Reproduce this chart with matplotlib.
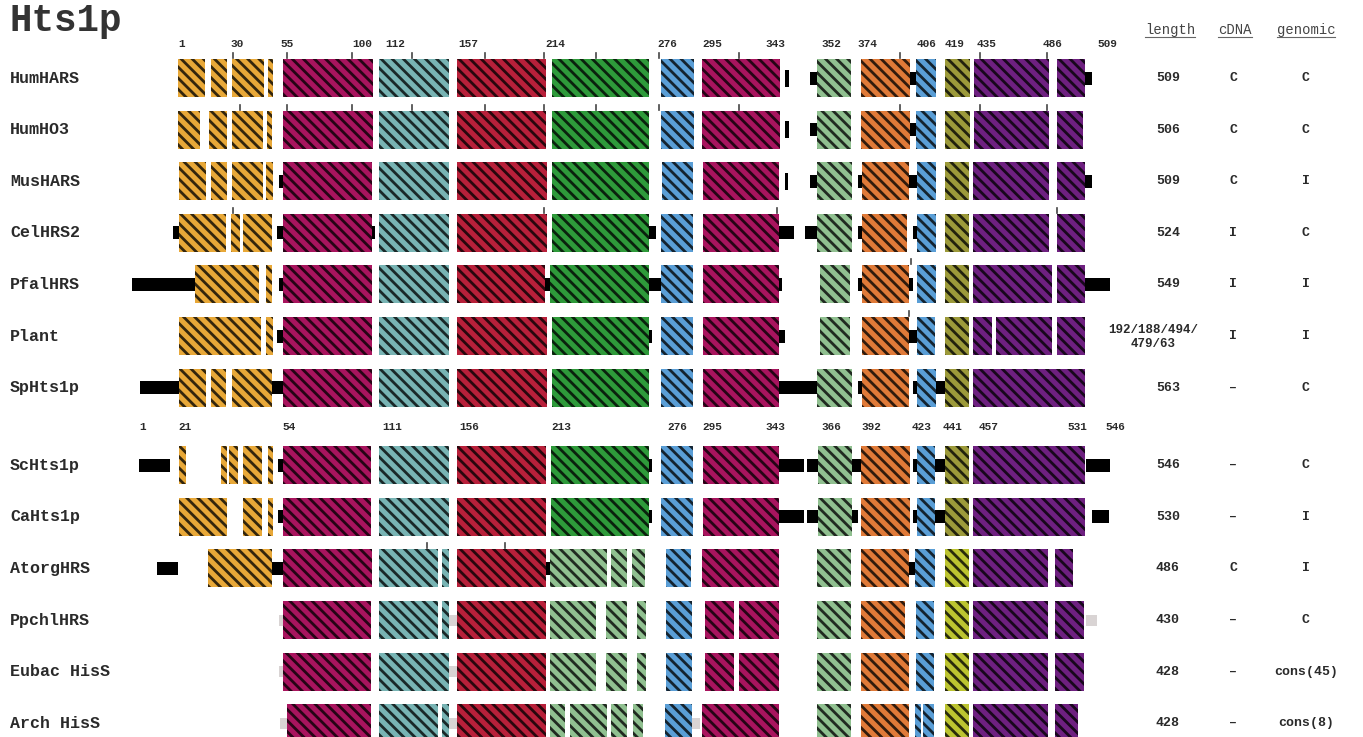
import numpy as np
import matplotlib
matplotlib.use("Agg")
import matplotlib.pyplot as plt
from matplotlib.colors import to_rgb

plt.rcParams['hatch.linewidth'] = 2.0

# domain colours
colors = {
    'or': '#E8A838', 'cr': '#A8145E', 'te': '#78B4B4', 'rd': '#B8203A',
    'gr': '#2E9A3A', 'bl': '#5A9ED6', 'lg': '#90C090', 'o2': '#E07A38',
    'ol': '#9C9A3A', 'yl': '#BCC430', 'pu': '#6E2080',
}

names = ['HumHARS', 'HumHO3', 'MusHARS', 'CelHRS2', 'PfalHRS', 'Plant', 'SpHts1p',
         'ScHts1p', 'CaHts1p', 'AtorgHRS', 'PpchlHRS', 'Eubac HisS', 'Arch HisS']
lengths = ['509', '506', '509', '524', '549', '192/188/494/\n479/63', '563',
           '546', '530', '486', '430', '428', '428']
cdna = ['C', 'C', 'C', 'I', 'I', 'I', '–', '–', '–', 'C', '–', '–', '–']
genomic = ['C', 'C', 'I', 'C', 'I', 'I', 'C', 'C', 'I', 'I', 'C', 'cons(45)', 'cons(8)']

# segments per row: (start, end, kind) ; k = black linker, g = grey gap
segments = [
    [(178,205,'or'),(211,227,'or'),(232,264,'or'),(268,273,'or'),(283,373,'cr'),(379,449,'te'),
     (457,546,'rd'),(552,649,'gr'),(661,694,'bl'),(702,780,'cr'),(785,789,'kv'),(810,817,'k'),
     (817,851,'lg'),(861,910,'o2'),(910,917,'k'),(916,936,'bl'),(945,970,'ol'),(974,1049,'pu'),
     (1057,1085,'pu'),(1085,1092,'k')],
    [(178,200,'or'),(209,227,'or'),(232,263,'or'),(267,272,'or'),(283,373,'cr'),(379,449,'te'),
     (457,546,'rd'),(552,649,'gr'),(661,694,'bl'),(702,780,'cr'),(785,789,'kv'),(810,817,'k'),
     (817,851,'lg'),(861,910,'o2'),(910,917,'k'),(916,936,'bl'),(945,970,'ol'),(974,1049,'pu'),
     (1057,1083,'pu')],
    [(179,206,'or'),(211,227,'or'),(232,263,'or'),(266,273,'or'),(279,283,'k'),(283,372,'cr'),
     (379,449,'te'),(457,547,'rd'),(552,649,'gr'),(662,693,'bl'),(703,779,'cr'),(785,788,'kv'),
     (810,817,'k'),(817,852,'lg'),(858,862,'k'),(862,909,'o2'),(909,917,'k'),(917,936,'bl'),
     (945,969,'ol'),(973,1049,'pu'),(1057,1085,'pu'),(1085,1092,'k')],
    [(173,179,'k'),(179,226,'or'),(231,240,'or'),(243,272,'or'),(277,283,'k'),(283,372,'cr'),
     (372,375,'k'),(379,449,'te'),(457,547,'rd'),(552,649,'gr'),(649,656,'k'),(661,693,'bl'),
     (703,779,'cr'),(779,794,'k'),(805,817,'k'),(817,852,'lg'),(858,862,'k'),(862,907,'o2'),
     (913,917,'k'),(917,936,'bl'),(945,969,'ol'),(973,1049,'pu'),(1057,1085,'pu')],
    [(132,195,'k'),(195,259,'or'),(266,272,'or'),(279,283,'k'),(283,372,'cr'),(379,449,'te'),
     (457,545,'rd'),(545,550,'k'),(550,649,'gr'),(649,661,'k'),(661,693,'bl'),(703,779,'cr'),
     (779,782,'k'),(820,850,'lg'),(858,862,'k'),(862,909,'o2'),(909,913,'k'),(917,936,'bl'),
     (945,969,'ol'),(973,1052,'pu'),(1057,1085,'pu'),(1085,1110,'k')],
    [(179,261,'or'),(266,273,'or'),(277,283,'k'),(283,372,'cr'),(379,449,'te'),(457,547,'rd'),
     (552,649,'gr'),(649,652,'k'),(661,693,'bl'),(703,779,'cr'),(779,785,'k'),(820,850,'lg'),
     (862,909,'o2'),(909,917,'k'),(917,935,'bl'),(945,969,'ol'),(973,992,'pu'),(996,1052,'pu'),
     (1057,1085,'pu')],
    [(140,179,'k'),(179,206,'or'),(211,226,'or'),(232,272,'or'),(272,283,'k'),(283,372,'cr'),
     (379,449,'te'),(457,547,'rd'),(552,649,'gr'),(661,693,'bl'),(703,779,'cr'),(779,817,'k'),
     (817,852,'lg'),(858,862,'k'),(862,909,'o2'),(913,917,'k'),(917,936,'bl'),(936,945,'k'),
     (945,969,'ol'),(973,1085,'pu')],
    [(139,170,'k'),(179,186,'or'),(221,227,'or'),(229,238,'or'),(243,262,'or'),(268,273,'or'),
     (278,283,'k'),(283,371,'cr'),(379,449,'te'),(457,546,'rd'),(551,649,'gr'),(649,652,'k'),
     (661,693,'bl'),(703,779,'cr'),(779,804,'k'),(807,818,'k'),(818,852,'lg'),(852,861,'k'),
     (861,910,'o2'),(913,917,'k'),(917,935,'bl'),(935,945,'k'),(945,969,'ol'),(973,1085,'pu'),
     (1086,1110,'k')],
    [(179,227,'or'),(243,262,'or'),(268,273,'or'),(278,283,'k'),(283,371,'cr'),(379,449,'te'),
     (457,546,'rd'),(551,649,'gr'),(649,652,'k'),(661,693,'bl'),(703,779,'cr'),(779,804,'k'),
     (807,818,'k'),(818,852,'lg'),(852,858,'k'),(861,910,'o2'),(913,917,'k'),(917,935,'bl'),
     (935,945,'k'),(945,969,'ol'),(973,1085,'pu'),(1092,1109,'k')],
    [(157,178,'k'),(208,272,'or'),(272,283,'k'),(283,372,'cr'),(379,438,'te'),(442,449,'te'),
     (457,546,'rd'),(546,550,'k'),(550,607,'lg'),(611,627,'lg'),(632,645,'lg'),(666,691,'bl'),
     (702,779,'cr'),(817,851,'lg'),(861,909,'o2'),(909,915,'k'),(915,935,'bl'),(945,969,'yl'),
     (973,1048,'pu'),(1055,1073,'pu')],
    [(279,283,'g'),(283,371,'cr'),(379,438,'te'),(442,449,'te'),(449,457,'g'),(457,546,'rd'),
     (550,596,'lg'),(606,627,'lg'),(637,646,'lg'),(666,692,'bl'),(705,734,'cr'),(739,779,'cr'),
     (817,851,'lg'),(861,905,'o2'),(916,934,'bl'),(945,969,'yl'),(973,1048,'pu'),
     (1055,1084,'pu'),(1086,1097,'g')],
    [(279,283,'g'),(283,371,'cr'),(379,449,'te'),(449,457,'g'),(457,546,'rd'),(550,596,'lg'),
     (606,627,'lg'),(637,646,'lg'),(666,692,'bl'),(705,734,'cr'),(739,779,'cr'),(817,851,'lg'),
     (861,909,'o2'),(916,934,'bl'),(945,969,'yl'),(973,1048,'pu'),(1055,1084,'pu')],
    [(280,287,'g'),(287,371,'cr'),(379,438,'te'),(442,449,'te'),(449,457,'g'),(457,546,'rd'),
     (550,565,'lg'),(570,607,'lg'),(611,627,'lg'),(633,643,'lg'),(665,692,'bl'),(692,700,'g'),
     (702,779,'cr'),(817,851,'lg'),(861,909,'o2'),(915,921,'bl'),(923,934,'bl'),(945,969,'yl'),
     (973,1048,'pu'),(1055,1078,'pu')],
]

# small tick marks above blocks (row index -> positions)
ticks = {
    0: [233, 287, 352, 412, 485, 544, 596, 659, 739, 900, 980, 1047],
    1: [240, 287, 352, 412, 485, 544, 596, 659, 739, 900, 980, 1047],
    3: [233, 544, 777, 1057],
    4: [911],
    5: [909],
    9: [427, 505],
}

# residue numbering rows
num1_lab = ['1', '30', '55', '100', '112', '157', '214', '276', '295', '343', '352', '374',
            '406', '419', '435', '486', '509']
num1_pos = [178, 230, 280, 352, 385, 458, 545, 657, 702, 765, 821, 857, 917, 945, 977, 1043, 1097]
num2_lab = ['1', '21', '54', '111', '156', '213', '276', '295', '343', '366', '392', '423',
            '441', '457', '531', '546']
num2_pos = [139, 178, 282, 382, 459, 551, 667, 702, 765, 821, 861, 912, 943, 979, 1067, 1105]


def darker(c, f=0.22):
    r, g, b = to_rgb(c)
    return (r * f, g * f, b * f)


fig = plt.figure(figsize=(13.63, 7.37), dpi=100)
ax = fig.add_axes([0, 0, 1, 1])
ax.set_xlim(0, 1363)
ax.set_ylim(737, 0)
ax.axis('off')

mono = 'Liberation Mono'
txt = '#2a2a2a'
ycent = [78 + 51.6 * i + (26 if i >= 7 else 0) for i in range(len(names))]

for i, row in enumerate(segments):
    y = ycent[i]
    for s, e, kind in row:
        if kind == 'k':
            ax.barh(y, e - s, left=s, height=13, color='black', linewidth=0)
        elif kind == 'kv':
            ax.barh(y, e - s, left=s, height=17, color='black', linewidth=0)
        elif kind == 'g':
            ax.barh(y, e - s, left=s, height=11, color='#d9d4d4', linewidth=0)
        else:
            c = colors[kind]
            ax.barh(y, e - s, left=s, height=38, color=c, edgecolor=darker(c),
                    hatch='\\\\\\', linewidth=0)
    ax.text(10, y, names[i], ha='left', va='center', fontsize=12,
            fontweight='bold', family=mono, color=txt)
    # right hand table
    if '\n' in lengths[i]:
        ax.text(1153, y + 1, lengths[i], ha='center', va='center', fontsize=9,
                fontweight='bold', family=mono, color=txt, linespacing=1.2)
    else:
        ax.text(1168, y, lengths[i], ha='center', va='center', fontsize=9.5,
                fontweight='bold', family=mono, color=txt)
    ax.text(1233, y, cdna[i], ha='center', va='center', fontsize=9.5,
            fontweight='bold', family=mono, color=txt)
    ax.text(1306, y, genomic[i], ha='center', va='center', fontsize=9.5,
            fontweight='bold', family=mono, color=txt)

for i, xs in ticks.items():
    top = ycent[i] - 19
    for x in xs:
        ax.plot([x, x], [top - 6, top - 1], color='#444444', lw=1.2)

for lab, x in zip(num1_lab, num1_pos):
    ax.text(x, 44, lab, ha='left', va='center', fontsize=8, fontweight='bold',
            family=mono, color=txt)
for lab, x in zip(num2_lab, num2_pos):
    ax.text(x, 427, lab, ha='left', va='center', fontsize=8, fontweight='bold',
            family=mono, color=txt)

ax.text(9, 21, 'Hts1p', ha='left', va='center', fontsize=27, fontweight='bold',
        family=mono, color='#333333')

for lab, x in [('length', 1170), ('cDNA', 1235), ('genomic', 1306)]:
    ax.text(x, 30, lab, ha='center', va='center', fontsize=10, family=mono,
            color='#444444')
    w = 8.4 * len(lab)
    ax.plot([x - w / 2, x + w / 2], [37, 37], color='#666666', lw=0.8)

fig.savefig('out.png', dpi=100)
